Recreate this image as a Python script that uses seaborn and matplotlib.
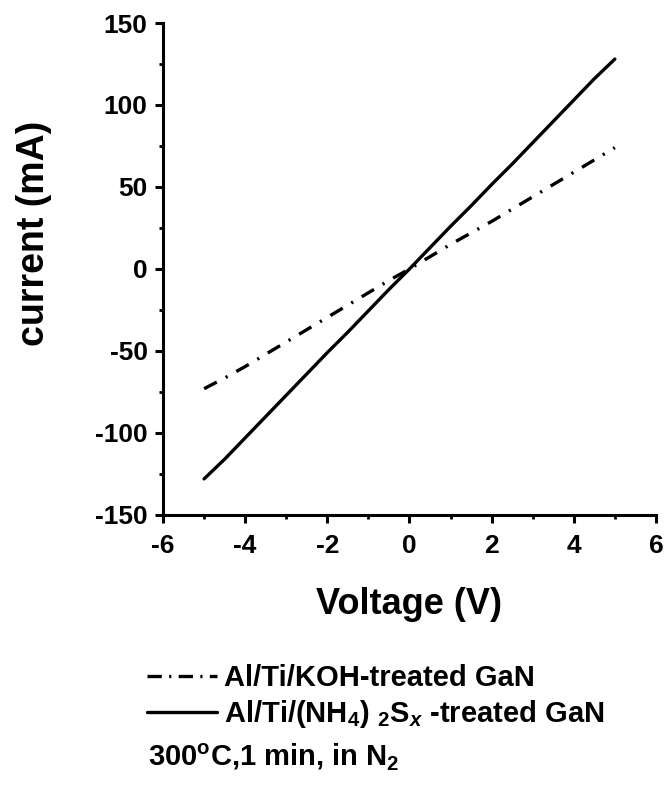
import matplotlib
matplotlib.use("Agg")
import matplotlib.pyplot as plt
from matplotlib.ticker import MultipleLocator
import seaborn as sns
import pandas as pd

# Measured I-V data (voltage in V, current in mA)
voltage = [-5.0, -4.5, -4.0, -3.5, -3.0, -2.5, -2.0, -1.5, -1.0, -0.5, 0.0,
           0.5, 1.0, 1.5, 2.0, 2.5, 3.0, 3.5, 4.0, 4.5, 5.0]
current_koh = [-73.0, -66.5, -59.5, -52.0, -44.5, -37.0, -29.5, -22.0, -14.5, -7.0, 0.0,
               7.5, 15.0, 22.0, 29.0, 36.5, 44.0, 51.5, 59.0, 66.5, 74.0]
current_nh4s = [-128.0, -116.0, -103.0, -90.0, -77.0, -64.0, -51.0, -38.5, -25.5, -12.5, 0.0,
                13.0, 26.0, 38.5, 51.5, 64.0, 77.0, 90.0, 103.0, 116.0, 128.0]

label_koh = "Al/Ti/KOH-treated GaN"
label_nh4s = r"Al/Ti/(NH$_4$) $_2$S$_{x}$ -treated GaN"
x_ticks = [-6, -4, -2, 0, 2, 4, 6]
y_ticks = [-150, -100, -50, 0, 50, 100, 150]

df = pd.DataFrame({
    "Voltage": voltage * 2,
    "Current": current_koh + current_nh4s,
    "Sample": [label_koh] * len(voltage) + [label_nh4s] * len(voltage),
})

sns.set_theme(style="ticks")
plt.rcParams["font.family"] = ["Liberation Sans", "DejaVu Sans"]
plt.rcParams["font.weight"] = "bold"
plt.rcParams["text.color"] = "black"
plt.rcParams["axes.labelcolor"] = "black"
plt.rcParams["xtick.color"] = "black"
plt.rcParams["ytick.color"] = "black"
plt.rcParams["mathtext.fontset"] = "custom"
plt.rcParams["mathtext.rm"] = "Liberation Sans:bold"
plt.rcParams["mathtext.it"] = "Liberation Sans:bold:italic"
plt.rcParams["mathtext.bf"] = "Liberation Sans:bold"

fig = plt.figure(figsize=(6.7, 7.85), dpi=100)
ax = fig.add_axes([0.2433, 0.344, 0.7357, 0.6267])

sns.lineplot(
    data=df, x="Voltage", y="Current", style="Sample",
    style_order=[label_koh, label_nh4s],
    dashes={label_koh: (4.3, 3.0, 0.65, 3.0), label_nh4s: ""},
    color="black", linewidth=2.4, ax=ax, legend=True,
)

ax.set_xlim(-6, 6)
ax.set_ylim(-150, 150)
ax.set_xticks(x_ticks)
ax.set_yticks(y_ticks)
ax.xaxis.set_minor_locator(MultipleLocator(1))
ax.yaxis.set_minor_locator(MultipleLocator(25))
ax.set_xticklabels([str(t) for t in x_ticks], fontsize=19, fontweight="bold")
ax.set_yticklabels([str(t) for t in y_ticks], fontsize=19, fontweight="bold")
ax.tick_params(axis="x", which="major", direction="out", length=6, width=2.2, pad=8)
ax.tick_params(axis="y", which="major", direction="out", length=6, width=2.2, pad=5)
ax.tick_params(axis="both", which="minor", direction="out", length=3, width=2.0)

for side in ["top", "right"]:
    ax.spines[side].set_visible(False)
for side in ["left", "bottom"]:
    ax.spines[side].set_linewidth(2.2)
    ax.spines[side].set_color("black")

ax.set_xlabel("Voltage (V)", fontsize=26, fontweight="bold")
ax.set_ylabel("current (mA)", fontsize=27, fontweight="bold")
ax.xaxis.set_label_coords(0.5, -0.146)
ax.yaxis.set_label_coords(-0.225, 0.573)

leg = ax.legend(
    loc="upper left", bbox_to_anchor=(0.219, 0.154), bbox_transform=fig.transFigure,
    frameon=False, handlelength=2.4, handletextpad=0.25,
    labelspacing=0.2, borderpad=0, borderaxespad=0,
    prop={"weight": "bold", "size": 21},
)
leg_lines = leg.get_lines()
for line in leg_lines:
    line.set_color("black")
    line.set_linewidth(2.4)
# tighter dash-dot sample so the key reads dash-dot-dash-dot-dash
leg_lines[0].set_dashes((4.3, 2.2, 0.65, 2.2))

fig.text(0.221, 0.0255, r"300$^{\rm o}$C,1 min, in N$_2$", fontsize=21,
         fontweight="bold", ha="left", va="baseline")

fig.savefig("out.png", dpi=100, facecolor="white")
